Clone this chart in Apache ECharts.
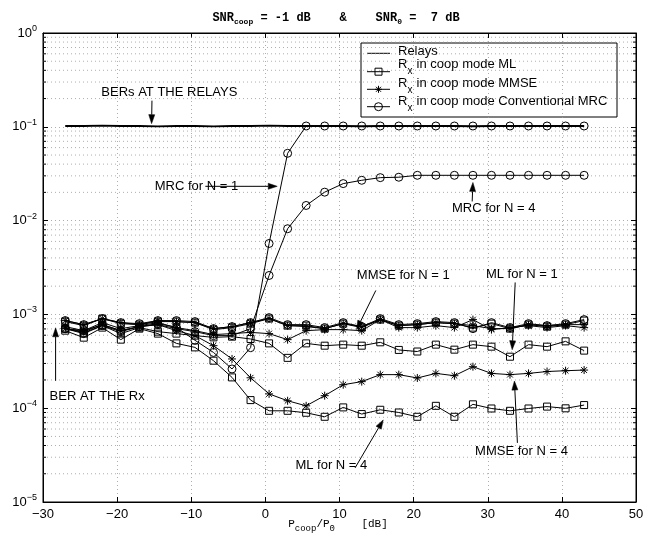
<!DOCTYPE html>
<html><head><meta charset="utf-8">
<script src="https://cdn.jsdelivr.net/npm/echarts@6/dist/echarts.min.js"></script>
<style>html,body{margin:0;padding:0;background:#fff}#c{width:653px;height:539px}</style>
</head><body><div id="c"></div>
<script>
// ---- data ----
const xVals = [-27,-24.5,-22,-19.5,-17,-14.5,-12,-9.5,-7,-4.5,-2,0.5,3,5.5,8,10.5,13,15.5,18,20.5,23,25.5,28,30.5,33,35.5,38,40.5,43];
const relays = [0.102,0.102,0.103,0.102,0.102,0.101,0.102,0.102,0.101,0.102,0.102,0.103,0.102,0.102,0.102,0.102,0.101,0.102,0.102,0.102,0.102,0.102,0.101,0.102,0.102,0.102,0.102,0.102,0.102];
const mlTop = [8.38e-4,7.59e-4,9.02e-4,7.97e-4,7.78e-4,8.38e-4,8.38e-4,8.17e-4,6.88e-4,7.23e-4,7.97e-4,9.02e-4,7.59e-4,7.59e-4,7.05e-4,7.97e-4,7.23e-4,8.80e-4,7.59e-4,7.78e-4,8.17e-4,7.97e-4,7.23e-4,7.97e-4,7.05e-4,7.78e-4,7.41e-4,7.78e-4,8.59e-4];
const mmseTop = [8.59e-4,7.78e-4,9.02e-4,8.17e-4,7.78e-4,8.59e-4,8.38e-4,8.17e-4,7.05e-4,7.41e-4,8.17e-4,9.02e-4,7.59e-4,7.41e-4,7.05e-4,7.97e-4,7.41e-4,8.80e-4,7.59e-4,7.78e-4,8.17e-4,7.97e-4,7.59e-4,7.05e-4,7.05e-4,7.78e-4,7.59e-4,7.78e-4,7.78e-4];
const mrcTop = [8.59e-4,7.78e-4,9.02e-4,8.17e-4,7.97e-4,8.59e-4,8.59e-4,8.38e-4,7.05e-4,7.41e-4,8.17e-4,9.24e-4,7.78e-4,7.78e-4,7.23e-4,8.17e-4,7.41e-4,9.02e-4,7.78e-4,7.97e-4,8.38e-4,8.17e-4,7.05e-4,8.17e-4,7.23e-4,7.97e-4,7.59e-4,7.97e-4,8.80e-4];
const mlN1 = [7.05e-4,6.24e-4,7.59e-4,6.24e-4,7.23e-4,6.55e-4,6.24e-4,5.94e-4,5.69e-4,5.79e-4,5.47e-4,4.91e-4,3.44e-4,4.91e-4,4.64e-4,4.76e-4,4.64e-4,5.04e-4,4.18e-4,4.02e-4,4.76e-4,4.21e-4,4.76e-4,4.53e-4,3.54e-4,4.76e-4,4.53e-4,5.16e-4,4.11e-4];
const mlN4 = [6.71e-4,5.65e-4,7.23e-4,5.38e-4,7.05e-4,6.24e-4,4.91e-4,4.45e-4,3.21e-4,2.13e-4,1.22e-4,9.38e-5,9.38e-5,8.94e-5,8.10e-5,1.02e-4,8.66e-5,9.62e-5,9.00e-5,8.10e-5,1.06e-4,8.10e-5,1.10e-4,9.93e-5,9.38e-5,9.93e-5,1.04e-4,9.97e-5,1.08e-4];
const mmseN1 = [7.41e-4,6.71e-4,8.17e-4,7.05e-4,7.59e-4,8.17e-4,7.23e-4,6.71e-4,6.09e-4,6.24e-4,6.43e-4,6.24e-4,5.38e-4,6.71e-4,6.88e-4,6.88e-4,6.71e-4,8.80e-4,7.23e-4,7.23e-4,7.59e-4,7.23e-4,8.80e-4,6.88e-4,7.23e-4,7.59e-4,7.23e-4,7.59e-4,7.23e-4];
const mmseN4 = [7.05e-4,6.55e-4,7.78e-4,6.71e-4,7.41e-4,7.78e-4,6.71e-4,5.94e-4,4.64e-4,3.35e-4,2.11e-4,1.42e-4,1.20e-4,1.06e-4,1.36e-4,1.78e-4,1.92e-4,2.28e-4,2.28e-4,2.10e-4,2.35e-4,2.22e-4,2.77e-4,2.35e-4,2.28e-4,2.35e-4,2.46e-4,2.51e-4,2.55e-4];
const mrcN1 = [7.05e-4,6.71e-4,7.78e-4,6.71e-4,7.41e-4,7.97e-4,7.28e-4,5.30e-4,3.93e-4,2.62e-4,4.42e-4,5.70e-3,5.22e-2,0.102,0.102,0.102,0.102,0.102,0.102,0.102,0.102,0.102,0.102,0.102,0.102,0.102,0.102,0.102,0.102];
const mrcN4 = [7.05e-4,6.39e-4,7.59e-4,6.55e-4,7.41e-4,7.78e-4,7.05e-4,6.55e-4,5.94e-4,5.94e-4,7.05e-4,2.60e-3,8.19e-3,1.45e-2,2.01e-2,2.48e-2,2.69e-2,2.87e-2,2.90e-2,3.04e-2,3.04e-2,3.04e-2,3.04e-2,3.04e-2,3.04e-2,3.04e-2,3.04e-2,3.04e-2,3.04e-2];
const legendNames = ['Relays','ML','MMSE','Conventional MRC'];
const minorMantissas = [2,3,4,5,6,7,8,9];
const decadeExps = [-5,-4,-3,-2,-1];
const annotTexts = [
  {name:'BERs AT THE RELAYS', x:-12.96, y:0.2344},
  {name:'MRC for N = 1', x:-9.3, y:0.0232},
  {name:'MRC for N = 4', x:30.8, y:0.01349},
  {name:'MMSE for N = 1', x:18.6, y:0.0026},
  {name:'ML for N = 1', x:34.6, y:0.00266},
  {name:'BER AT THE Rx', x:-22.7, y:1.32e-4},
  {name:'ML for N = 4', x:8.9, y:2.43e-5},
  {name:'MMSE for N = 4', x:34.55, y:3.42e-5}
];
const annotArrows = [
  [[-15.3,0.19],[-15.35,0.108]],
  [[-8.1,0.0232],[1.6,0.0232]],
  [[27.9,0.016],[28.0,0.0255]],
  [[14.9,0.0018],[12.3,6.9e-4]],
  [[33.7,0.00219],[33.3,4.2e-4]],
  [[-28.3,1.96e-4],[-28.3,7.2e-4]],
  [[12.1,2.31e-5],[15.9,7.5e-5]],
  [[34.0,4.27e-5],[33.6,1.95e-4]]
];
// ---- chart ----
const FONT = 'Liberation Sans, Arial, Helvetica, sans-serif';
const MONO = 'Liberation Mono, Courier New, monospace';
const minorTickVals = [];
decadeExps.forEach(e => minorMantissas.forEach(m => minorTickVals.push(m * Math.pow(10, e))));
const SQ = 'path://M-5,-5L5,-5L5,5L-5,5Z';
const CI = 'path://M5,0A5,5,0,1,1,-5,0A5,5,0,1,1,5,0Z';
const ST = 'path://M0,-5L0,5M-5,0L5,0M-3.6,-3.6L3.6,3.6M-3.6,3.6L3.6,-3.6';
function pts(arr){ return xVals.map((x,i)=>[x, arr[i]]); }
function ser(name, arr, sym, size){
  return {name, type:'line', data:pts(arr), symbol:sym, symbolSize:size, showSymbol:true,
    lineStyle:{color:'#000', width:1}, itemStyle:{color:'rgba(0,0,0,0)', borderColor:'#000', borderWidth:1},
    z:3, silent:true, animation:false};
}
// legend drawn as graphic (box, samples, rich labels)
function legendGraphic(){
  const L = 361, T = 43, W = 256, H = 74;
  const lineYs = [53.3, 71.7, 89.3, 106.7];
  const textYs = [51.7, 64.4, 83.0, 101.3];
  const ch = [{type:'rect', shape:{x:L, y:T, width:W, height:H}, style:{fill:'#fff', stroke:'#000', lineWidth:1}}];
  legendNames.forEach((n, i) => {
    const ly = lineYs[i], ty = textYs[i], mx = 378.5;
    ch.push({type:'line', shape:{x1:367, y1:ly, x2:390, y2:ly}, style:{stroke:'#000', lineWidth:1}});
    if (i === 1) ch.push({type:'rect', shape:{x:mx-3.5, y:ly-3.5, width:7, height:7}, style:{fill:'rgba(0,0,0,0)', stroke:'#000', lineWidth:1}});
    if (i === 2) [[0,-3.5,0,3.5],[-3.5,0,3.5,0],[-2.5,-2.5,2.5,2.5],[-2.5,2.5,2.5,-2.5]].forEach(s =>
      ch.push({type:'line', shape:{x1:mx+s[0], y1:ly+s[1], x2:mx+s[2], y2:ly+s[3]}, style:{stroke:'#000', lineWidth:1}}));
    if (i === 3) ch.push({type:'circle', shape:{cx:mx, cy:ly, r:4}, style:{fill:'rgba(0,0,0,0)', stroke:'#000', lineWidth:1}});
    if (i === 0) {
      ch.push({type:'text', x:398, y:ty, style:{text:'Relays', font:'13px ' + FONT, fill:'#000', textVerticalAlign:'middle'}});
    } else {
      ch.push({type:'text', x:398, y:ty, style:{text:'R', font:'13px ' + FONT, fill:'#000', textVerticalAlign:'middle'}});
      ch.push({type:'text', x:407.6, y:ty+7, style:{text:'x', font:'10px ' + FONT, fill:'#000', textVerticalAlign:'middle'}});
      ch.push({type:'text', x:413, y:ty, style:{text:' in coop mode ' + n, font:'13px ' + FONT, fill:'#000', textVerticalAlign:'middle'}});
    }
  });
  return {type:'group', z:50, children:ch};
}
const chart = echarts.init(document.getElementById('c'), null, {renderer:'canvas'});
const yLab = v => { const e = Math.round(Math.log10(v)); return '{b|10}{e|' + (e < 0 ? '\u2212' : '') + Math.abs(e) + '}'; };
const gridDot = {show:true, lineStyle:{color:'#999', width:0.8, type:[1,3]}};
const option = {
  backgroundColor:'#fff',
  animation:false,
  grid:{left:43, right:17, top:33, bottom:37, show:true, borderColor:'#000', borderWidth:1, backgroundColor:'#fff'},
  xAxis:[
    {type:'value', min:-30, max:50, interval:10, position:'bottom',
     axisLine:{show:true, lineStyle:{color:'#000', width:1}},
     axisTick:{show:true, inside:true, length:5, lineStyle:{color:'#000'}},
     axisLabel:{color:'#000', fontSize:13, fontFamily:FONT, margin:6, formatter: v => (v<0?'\u2212':'') + Math.abs(v)},
     splitLine:gridDot},
    {type:'value', min:-30, max:50, interval:10, position:'top',
     axisLine:{show:true, lineStyle:{color:'#000'}},
     axisTick:{show:true, inside:true, length:5, lineStyle:{color:'#000'}},
     axisLabel:{show:false}, splitLine:{show:false}}
  ],
  yAxis:[
    {type:'log', logBase:10, min:1e-5, max:1, splitNumber:5, position:'left',
     axisLine:{show:true, onZero:false, lineStyle:{color:'#000'}},
     axisTick:{show:true, inside:true, length:5, lineStyle:{color:'#000'}},
     axisLabel:{color:'#000', margin:6, formatter:yLab,
       rich:{b:{fontSize:13, fontFamily:FONT, color:'#000'}, e:{fontSize:9, fontFamily:FONT, color:'#000', padding:[0,0,9,0]}}},
     splitLine:gridDot},
    {type:'log', logBase:10, min:1e-5, max:1, splitNumber:5, position:'right',
     axisLine:{show:true, onZero:false, lineStyle:{color:'#000'}},
     axisTick:{show:true, inside:true, length:5, lineStyle:{color:'#000'}},
     axisLabel:{show:false}, splitLine:{show:false}}
  ],
  graphic:[
    {type:'text', x:336, y:10, z:20, style:{text:'{m|SNR}{s|coop}{m| = -1 dB    &    SNR}{s|0}{m| =  7 dB}', textAlign:'center',
      rich:{m:{fontSize:12, fontFamily:MONO, fontWeight:'bold', fill:'#000'}, s:{fontSize:8, fontFamily:MONO, fontWeight:'bold', fill:'#000', padding:[8,0,0,0]}}}},
    {type:'text', x:338, y:516, z:20, style:{text:'{m|P}{s|coop}{m|/P}{s|0}{m|    [dB]}', textAlign:'center',
      rich:{m:{fontSize:11, fontFamily:MONO, fill:'#000'}, s:{fontSize:9, fontFamily:MONO, fill:'#000', padding:[8,0,0,0]}}}},
    legendGraphic()
  ],
  series:[
    {type:'custom', name:'minorgrid', silent:true, z:1, xAxisIndex:0, yAxisIndex:0,
     data:minorTickVals.map(v => [0, v]), encode:{x:0, y:1},
     renderItem:(params, api) => {
       const v = api.value(1);
       const a = api.coord([-30, v]), b = api.coord([50, v]);
       return {type:'group', children:[
         {type:'line', shape:{x1:a[0], y1:a[1], x2:b[0], y2:b[1]}, style:{stroke:'#999', lineWidth:0.8, lineDash:[1,3]}},
         {type:'line', shape:{x1:a[0], y1:a[1], x2:a[0]+3, y2:a[1]}, style:{stroke:'#000', lineWidth:1}},
         {type:'line', shape:{x1:b[0]-3, y1:b[1], x2:b[0], y2:b[1]}, style:{stroke:'#000', lineWidth:1}}
       ]};
     }},
    {name:'Relays', type:'line', data:pts(relays), symbol:'none', lineStyle:{color:'#000', width:1.8}, itemStyle:{color:'#000'}, z:3, silent:true},
    ser('ML', mlTop, SQ, 7), ser('MMSE', mmseTop, ST, 8), ser('Conventional MRC', mrcTop, CI, 8),
    ser('ML', mlN1, SQ, 7), ser('ML', mlN4, SQ, 7),
    ser('MMSE', mmseN1, ST, 8), ser('MMSE', mmseN4, ST, 8),
    ser('Conventional MRC', mrcN1, CI, 8), ser('Conventional MRC', mrcN4, CI, 8),
    {type:'custom', name:'arrows', silent:true, z:6,
     data:annotArrows.map(p => [p[0][0], p[0][1], p[1][0], p[1][1]]), encode:{x:[0,2], y:[1,3]},
     renderItem:(params, api) => {
       const a = api.coord([api.value(0), api.value(1)]), b = api.coord([api.value(2), api.value(3)]);
       const dx = b[0]-a[0], dy = b[1]-a[1], L = Math.hypot(dx, dy), ux = dx/L, uy = dy/L;
       const hl = 9, hw = 3;
       const bx = b[0]-ux*hl, by = b[1]-uy*hl;
       return {type:'group', children:[
         {type:'line', shape:{x1:a[0], y1:a[1], x2:bx, y2:by}, style:{stroke:'#000', lineWidth:1}},
         {type:'polygon', shape:{points:[[b[0], b[1]], [bx-uy*hw, by+ux*hw], [bx+uy*hw, by-ux*hw]]}, style:{fill:'#000', stroke:'#000', lineWidth:0.5}}
       ]};
     }},
    {name:'annot', type:'line', data:[], silent:true, z:5,
     markPoint:{silent:true, symbol:'rect', symbolSize:0, animation:false,
       label:{show:true, position:'inside', color:'#000', fontSize:13, fontFamily:FONT, formatter:'{b}'},
       data:annotTexts.map(t => ({name:t.name, coord:[t.x, t.y]}))}}
  ]
};
chart.setOption(option);
</script></body></html>
